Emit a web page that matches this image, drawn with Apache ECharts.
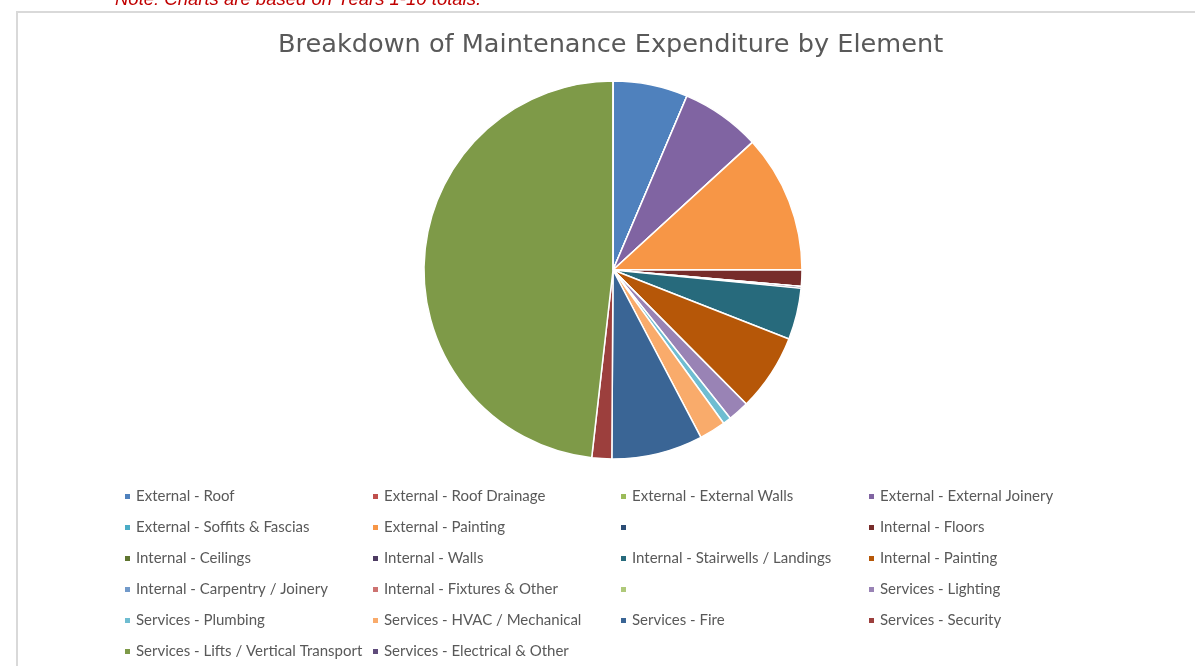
<!DOCTYPE html>
<html>
<head>
<meta charset="utf-8">
<script src="https://cdn.jsdelivr.net/npm/echarts@6/dist/echarts.min.js"></script>
<style>
  html, body { margin: 0; padding: 0; background: #ffffff; }
  #chart { width: 1195px; height: 666px; }
</style>
</head>
<body>
<div id="chart"></div>
<script>
// Elements in legend order (row by row, four per row). Unlabelled slots keep their colour swatch only.
const elements = [
  'External - Roof', 'External - Roof Drainage', 'External - External Walls', 'External - External Joinery',
  'External - Soffits & Fascias', 'External - Painting', '(unnamed 1)', 'Internal - Floors',
  'Internal - Ceilings', 'Internal - Walls', 'Internal - Stairwells / Landings', 'Internal - Painting',
  'Internal - Carpentry / Joinery', 'Internal - Fixtures & Other', '(unnamed 2)', 'Services - Lighting',
  'Services - Plumbing', 'Services - HVAC / Mechanical', 'Services - Fire', 'Services - Security',
  'Services - Lifts / Vertical Transport', 'Services - Electrical & Other'
];
const unnamed = ['(unnamed 1)', '(unnamed 2)'];

// Share of Years 1-10 maintenance expenditure (%)
const expenditure = [
  6.4, 0, 0, 6.8,
  0, 11.8, 0, 1.4,
  0, 0.15, 4.4, 6.6,
  0, 0, 0, 1.8,
  0.7, 2.25, 7.8, 1.7,
  48.2, 0
];

const palette = [
  '#4F81BD', '#C0504D', '#9BBB59', '#8064A2',
  '#4BACC6', '#F79646', '#2C4D75', '#772C2A',
  '#5F7530', '#4D3B62', '#276A7C', '#B65708',
  '#729ACA', '#CD7371', '#AFC97A', '#9983B5',
  '#6FBDD1', '#F9AB6B', '#3A6595', '#9C3F3D',
  '#7E9A48', '#5F4B7B'
];

const chart = echarts.init(document.getElementById('chart'), null, { renderer: 'canvas' });

chart.setOption({
  animation: false,
  backgroundColor: '#ffffff',
  color: palette,
  title: {
    text: 'Breakdown of Maintenance Expenditure by Element',
    left: 273,
    top: 27,
    textStyle: {
      fontFamily: 'DejaVu Sans',
      fontSize: 25.6,
      fontWeight: 'normal',
      color: '#595959'
    }
  },
  graphic: [
    {
      type: 'text',
      left: 115,
      top: -10,
      style: {
        text: 'Note: Charts are based on Years 1-10 totals.',
        font: 'italic 18.5px "Liberation Sans", Arial, sans-serif',
        fill: '#C00000'
      }
    },
    {
      type: 'rect',
      shape: { x: 17, y: 12, width: 1200, height: 700 },
      style: { fill: 'none', stroke: '#D9D9D9', lineWidth: 2 },
      silent: true,
      z: -1
    }
  ],
  legend: {
    data: elements,
    left: 118,
    top: 479,
    width: 1000,
    orient: 'horizontal',
    itemWidth: 7,
    itemHeight: 7,
    itemGap: 6,
    icon: 'rect',
    selectedMode: false,
    formatter: function (name) {
      return unnamed.indexOf(name) >= 0 ? '' : name;
    },
    textStyle: {
      fontFamily: 'Lato, "Open Sans", sans-serif',
      fontSize: 15,
      color: '#595959',
      width: 229,
      lineHeight: 25,
      overflow: 'none'
    }
  },
  series: [
    {
      type: 'pie',
      center: [613, 270],
      radius: [0, 189],
      startAngle: 90,
      clockwise: true,
      avoidLabelOverlap: false,
      minAngle: 0,
      label: { show: false },
      labelLine: { show: false },
      itemStyle: { borderColor: '#ffffff', borderWidth: 1.5 },
      emphasis: { disabled: true },
      data: elements.map(function (name, i) {
        return { name: name, value: expenditure[i] };
      })
    }
  ]
});
</script>
</body>
</html>
